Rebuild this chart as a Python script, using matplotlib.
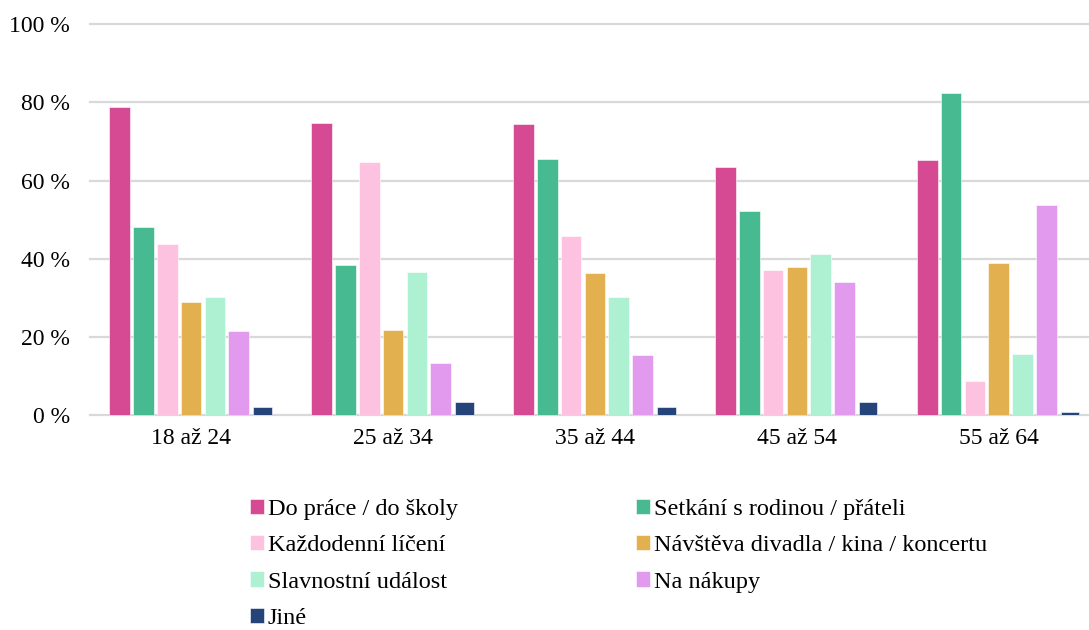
import matplotlib
matplotlib.use("Agg")
import matplotlib.pyplot as plt
import numpy as np

plt.rcParams['font.family'] = ['Liberation Serif', 'DejaVu Serif']

groups = ["18 až 24", "25 až 34", "35 až 44", "45 až 54", "55 až 64"]

series_names = [
    "Do práce / do školy",
    "Setkání s rodinou / přáteli",
    "Každodenní líčení",
    "Návštěva divadla / kina / koncertu",
    "Slavnostní událost",
    "Na nákupy",
    "Jiné",
]

do_prace = [78.9, 74.7, 74.4, 63.4, 65.3]
setkani = [48.1, 38.3, 65.4, 52.2, 82.3]
kazdodenni = [43.8, 64.7, 45.8, 37.0, 8.8]
navsteva = [28.9, 21.8, 36.3, 37.8, 38.9]
slavnostni = [30.1, 36.7, 30.2, 41.1, 15.7]
nakupy = [21.6, 13.4, 15.4, 34.0, 53.7]
jine = [2.1, 3.2, 2.0, 3.2, 0.8]

series_values = [do_prace, setkani, kazdodenni, navsteva, slavnostni, nakupy, jine]

colors = ["#D64A93", "#47BA92", "#FDC2DF", "#E3B04F", "#AEF0D2", "#E29AEE", "#25457A"]

y_ticks = [0, 20, 40, 60, 80, 100]
y_tick_labels = ["0 %", "20 %", "40 %", "60 %", "80 %", "100 %"]

W, H = 1089, 630
fig = plt.figure(figsize=(W / 100, H / 100), dpi=100)
ax_left, ax_right, ax_top, ax_bottom = 90, 1089, 24.3, 415
ax = fig.add_axes([ax_left / W, 1 - ax_bottom / H, (ax_right - ax_left) / W, (ax_bottom - ax_top) / H])

x = np.arange(len(groups))
pitch = 0.1179
n = len(series_names)
handles = []
for i, (name, vals, col) in enumerate(zip(series_names, series_values, colors)):
    width = 0.0906 if name == "Jiné" else 0.1025
    offs = (i - (n - 1) / 2) * pitch
    b = ax.bar(x + offs, vals, width=width, color=col, edgecolor="white",
               linewidth=0.4, label=name, zorder=3)
    handles.append(b)

ax.set_xlim(-0.501, 4.447)
ax.set_ylim(0, 100)
ax.set_yticks(y_ticks)
ax.set_yticklabels(y_tick_labels)
ax.set_xticks(x)
ax.set_xticklabels(groups)
ax.tick_params(axis="both", length=0, labelsize=17, colors="black")
ax.tick_params(axis="y", pad=14.5)
ax.tick_params(axis="x", pad=9)
ax.yaxis.grid(True, color="#D9D9D9", linewidth=1.6, zorder=0)
ax.set_axisbelow(True)
for gl in ax.yaxis.get_gridlines():
    gl.set_clip_on(False)
for s in ax.spines.values():
    s.set_visible(False)

# two legend columns, filled row by row
col1 = [0, 2, 4, 6]
col2 = [1, 3, 5]
common = dict(frameon=False, fontsize=17.5, borderpad=0, borderaxespad=0,
              handlelength=0.58, handleheight=0.58, handletextpad=0.15,
              labelspacing=0.62, loc="upper left")
leg1 = fig.legend([handles[i] for i in col1], [series_names[i] for i in col1],
                  bbox_to_anchor=(250 / W, 1 - 499 / H), **common)
leg2 = fig.legend([handles[i] for i in col2], [series_names[i] for i in col2],
                  bbox_to_anchor=(636 / W, 1 - 499 / H), **common)

fig.savefig("out.png", dpi=100)
